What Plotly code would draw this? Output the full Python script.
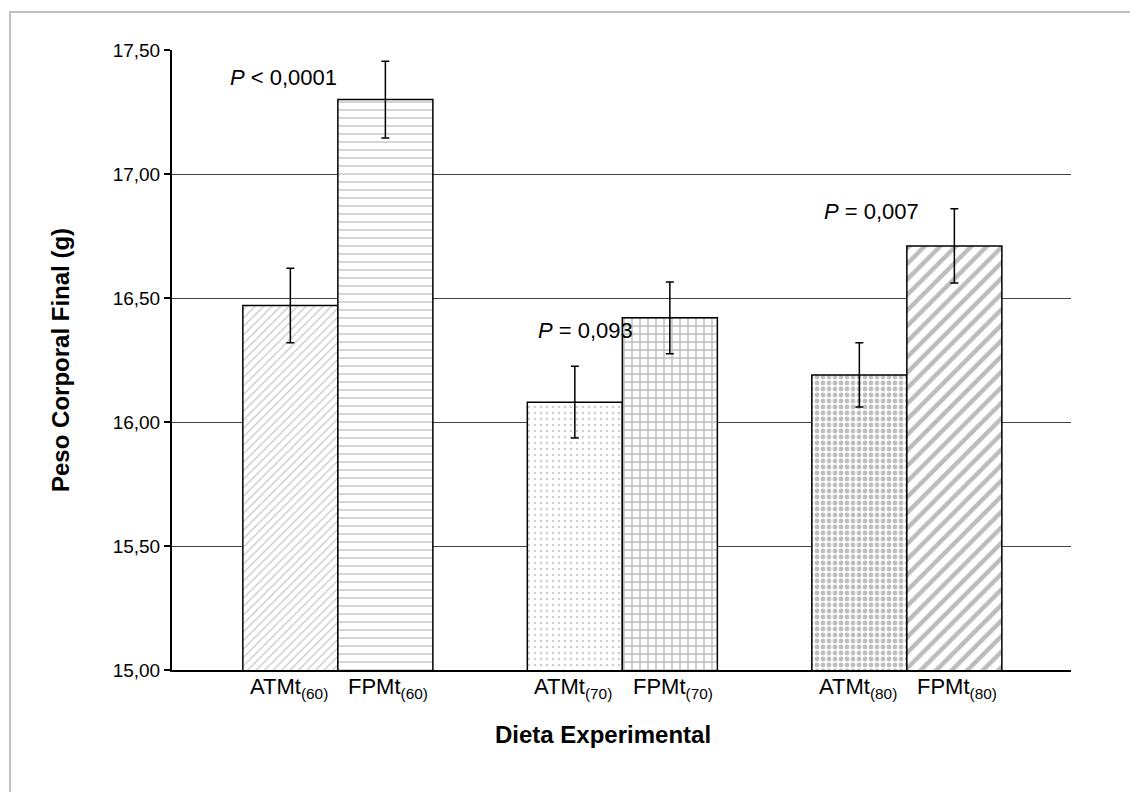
import plotly.graph_objects as go

# ---- data ----
groups = [0, 1, 2]
atm_labels = ["ATMt<sub>(60)</sub>", "ATMt<sub>(70)</sub>", "ATMt<sub>(80)</sub>"]
fpm_labels = ["FPMt<sub>(60)</sub>", "FPMt<sub>(70)</sub>", "FPMt<sub>(80)</sub>"]
atm_values = [16.47, 16.08, 16.19]
atm_errors = [0.15, 0.145, 0.13]
fpm_values = [17.30, 16.42, 16.71]
fpm_errors = [0.155, 0.145, 0.15]
p_texts = ["<i>P</i> < 0,0001", "<i>P</i> = 0,093", "<i>P</i> = 0,007"]
p_x = [-0.19, 0.87, 1.875]
p_y = [17.39, 16.37, 16.85]
y_ticks = [15.0, 15.5, 16.0, 16.5, 17.0, 17.5]

FONT = "Arial, Liberation Sans, sans-serif"
BAR_W = 0.334

fig = go.Figure()
fig.add_trace(go.Bar(
    x=groups, y=atm_values, name="ATMt",
    error_y=dict(type="data", array=atm_errors, color="black", thickness=1.5, width=4),
    marker=dict(
        color="white",
        line=dict(color="black", width=1.5),
        pattern=dict(
            shape=["/", ".", "."],
            fgcolor=["#8a8a8a", "#a0a0a0", "#808080"],
            bgcolor="white",
            size=[6, 6, 6],
            solidity=[0.2, 0.15, 0.5],
            fillmode="overlay",
        ),
    ),
))
fig.add_trace(go.Bar(
    x=groups, y=fpm_values, name="FPMt",
    error_y=dict(type="data", array=fpm_errors, color="black", thickness=1.5, width=4),
    marker=dict(
        color="white",
        line=dict(color="black", width=1.5),
        pattern=dict(
            shape=["-", "+", "/"],
            fgcolor=["#a0a0a0", "#808080", "#7a7a7a"],
            bgcolor="white",
            size=[8, 8, 11],
            solidity=[0.22, 0.35, 0.4],
            fillmode="overlay",
        ),
    ),
))

annotations = []
for g, a, f in zip(groups, atm_labels, fpm_labels):
    annotations.append(dict(x=g - BAR_W / 2 - 0.005, y=-0.029, xref="x", yref="paper", text=a,
                            showarrow=False, font=dict(size=22, color="black", family=FONT),
                            xanchor="center", yanchor="middle"))
    annotations.append(dict(x=g + BAR_W / 2 + 0.01, y=-0.029, xref="x", yref="paper", text=f,
                            showarrow=False, font=dict(size=22, color="black", family=FONT),
                            xanchor="center", yanchor="middle"))
for t, px, py in zip(p_texts, p_x, p_y):
    annotations.append(dict(x=px, y=py, xref="x", yref="y", text=t, showarrow=False,
                            xanchor="center", yanchor="middle",
                            font=dict(size=22, color="black", family=FONT)))
annotations.append(dict(x=-0.1246, y=0.5, xref="paper", yref="paper",
                        text="<b>Peso Corporal Final (g)</b>", textangle=-90, showarrow=False,
                        xanchor="center", yanchor="middle",
                        font=dict(size=24, color="black", family=FONT)))
annotations.append(dict(x=0.4794, y=-0.104, xref="paper", yref="paper",
                        text="<b>Dieta Experimental</b>", showarrow=False,
                        xanchor="center", yanchor="middle",
                        font=dict(size=24, color="black", family=FONT)))

fig.update_layout(
    width=1130, height=784, autosize=False,
    margin=dict(l=164, r=67, t=42, b=122),
    paper_bgcolor="white", plot_bgcolor="white",
    barmode="group", bargap=1 - 2 * BAR_W, bargroupgap=0,
    showlegend=False,
    separators=",.",
    font=dict(family=FONT, size=20, color="black"),
    annotations=annotations,
    shapes=[dict(type="rect", xref="paper", yref="paper", x0=-0.1802, y0=-1.0,
                 x1=1.6, y1=1.0613, line=dict(color="#c0c0c0", width=2), layer="below")],
)
fig.update_xaxes(range=[-0.583, 2.577], showticklabels=False, ticks="", showgrid=False,
                 zeroline=False, showline=True, linecolor="black", linewidth=2)
fig.update_yaxes(range=[15, 17.5], tickvals=y_ticks, tickformat=".2f", ticks="outside",
                 ticklen=6, tickcolor="black", tickwidth=1.5,
                 showgrid=True, gridcolor="#444444", gridwidth=1, zeroline=False,
                 showline=True, linecolor="black", linewidth=2,
                 tickfont=dict(size=19, color="black", family=FONT))

fig.write_html("out.html")
